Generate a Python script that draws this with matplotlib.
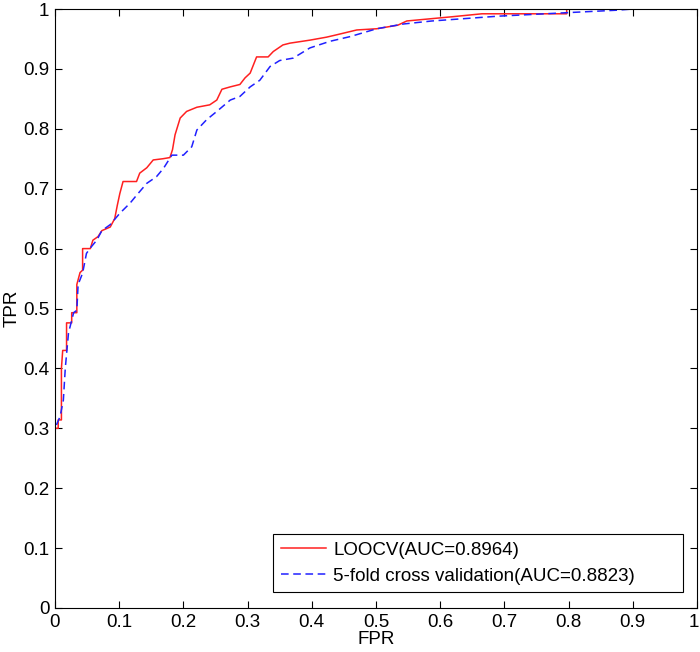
import matplotlib
matplotlib.use("Agg")
from matplotlib import pyplot as plt
from matplotlib.transforms import ScaledTranslation

plt.rcParams['font.family'] = ['Liberation Sans', 'DejaVu Sans']

# LOOCV ROC curve
loo_fpr = [0, 0, 0.005, 0.005, 0.01, 0.01, 0.012, 0.018, 0.018, 0.026, 0.026, 0.034, 0.034,
           0.039, 0.043, 0.043, 0.055, 0.059, 0.067, 0.073, 0.086, 0.093, 0.097, 0.101, 0.106,
           0.127, 0.132, 0.143, 0.153, 0.168, 0.179, 0.183, 0.187, 0.195, 0.205, 0.221, 0.241,
           0.252, 0.26, 0.273, 0.288, 0.296, 0.304, 0.314, 0.332, 0.34, 0.355, 0.366, 0.397,
           0.423, 0.439, 0.47, 0.501, 0.534, 0.548, 0.618, 0.665, 0.797, 0.797, 1.0]
loo_tpr = [0, 0.30, 0.30, 0.314, 0.314, 0.40, 0.43, 0.43, 0.476, 0.476, 0.493, 0.493, 0.54,
           0.56, 0.564, 0.60, 0.60, 0.614, 0.62, 0.63, 0.636, 0.65, 0.672, 0.692, 0.712,
           0.712, 0.726, 0.735, 0.748, 0.75, 0.752, 0.765, 0.79, 0.818, 0.829, 0.836, 0.84,
           0.848, 0.866, 0.87, 0.874, 0.885, 0.893, 0.92, 0.92, 0.929, 0.94, 0.943, 0.948,
           0.953, 0.957, 0.965, 0.967, 0.973, 0.98, 0.987, 0.992, 0.992, 1.0, 1.0]

# 5-fold cross validation ROC curve
cv_fpr = [0, 0, 0.008, 0.013, 0.016, 0.021, 0.029, 0.034, 0.036, 0.043, 0.049, 0.055, 0.065,
          0.073, 0.086, 0.101, 0.117, 0.127, 0.143, 0.158, 0.169, 0.182, 0.2, 0.213, 0.221,
          0.236, 0.252, 0.273, 0.288, 0.304, 0.319, 0.335, 0.35, 0.371, 0.397, 0.428, 0.46,
          0.501, 0.543, 0.587, 0.69, 0.8, 0.875, 0.9, 1.0]
cv_tpr = [0, 0.30, 0.32, 0.347, 0.40, 0.459, 0.493, 0.497, 0.54, 0.559, 0.592, 0.601, 0.614,
          0.63, 0.64, 0.659, 0.676, 0.689, 0.709, 0.72, 0.734, 0.756, 0.756, 0.77, 0.798,
          0.815, 0.829, 0.848, 0.854, 0.87, 0.881, 0.904, 0.914, 0.918, 0.935, 0.946, 0.954,
          0.967, 0.975, 0.98, 0.988, 0.994, 0.998, 1.0, 1.0]

ticks = [i / 10 for i in range(11)]
tick_labels = ['0', '0.1', '0.2', '0.3', '0.4', '0.5', '0.6', '0.7', '0.8', '0.9', '1']

fig = plt.figure(figsize=(7.0, 6.52), dpi=100)
ax = fig.add_axes([55 / 700, 44 / 652, 642 / 700, 599 / 652])

ax.plot(loo_fpr, loo_tpr, color='#ff2020', linewidth=1.1, label='LOOCV(AUC=0.8964)')
ax.plot(cv_fpr, cv_tpr, color='#2020ff', linewidth=1.1, linestyle=(0, (5, 3)),
        label='5-fold cross validation(AUC=0.8823)')

ax.set_xlim(0, 1)
ax.set_ylim(0, 1)
ax.set_xticks(ticks)
ax.set_yticks(ticks)
ax.set_xticklabels(tick_labels)
ax.set_yticklabels(tick_labels)
ax.tick_params(direction='in', top=True, right=True, length=5, labelsize=13.5, pad=4)
for s in ax.spines.values():
    s.set_linewidth(0.8)

# keep the last x tick label "1" inside the figure edge
last = ax.get_xticklabels()[-1]
last.set_transform(last.get_transform() + ScaledTranslation(-0.03, 0, fig.dpi_scale_trans))

ax.set_xlabel('FPR', fontsize=13.5, labelpad=0)
ax.set_ylabel('TPR', fontsize=13.5, labelpad=2)

leg = ax.legend(loc='lower left', bbox_to_anchor=(0.3396, 0.0267, 0.6386, 0.0985),
                mode='expand', fontsize=13.5, fancybox=False, framealpha=1,
                edgecolor='black', borderaxespad=0, handlelength=2.4, handletextpad=0.4,
                borderpad=0.4, labelspacing=0.45)
leg.get_frame().set_linewidth(0.8)

fig.savefig('out.png', dpi=100)
